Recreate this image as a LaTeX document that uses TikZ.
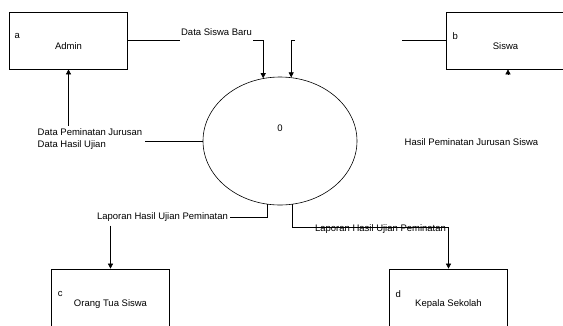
\documentclass[tikz,border=0pt]{standalone}
\usepackage{fontspec}
\setmainfont{Liberation Sans}
\usetikzlibrary{arrows.meta}
\usetikzlibrary{shapes.geometric}

\begin{document}
\begin{tikzpicture}[x=1pt, y=-1pt,
  entity/.style={draw, line width=0.7pt, minimum width=118pt, minimum height=57pt, inner sep=0pt},
  process/.style={draw, ellipse, line width=0.6pt, minimum width=154pt, minimum height=128pt, inner sep=0pt},
  flow/.style={-{Triangle[length=5pt,width=5pt]}, line width=0.6pt},
  wire/.style={line width=0.6pt},
  txt/.style={font=\fontsize{9.5}{12}\selectfont, inner sep=0pt}
]
\useasboundingbox (0,0) rectangle (563,325);
\clip (0,0) rectangle (563,325);

%external entities
\node[entity] (admin) at (68.5,40.5) {};
\node[txt] at ([xshift=8pt,yshift=-24pt]admin.north west) {a};
\node[txt] at ([yshift=-34pt]admin.north) {Admin};

\node[entity] (siswa) at (505.5,40.5) {};
\node[txt] at ([xshift=9pt,yshift=-24pt]siswa.north west) {b};
\node[txt] at ([yshift=-34pt]siswa.north) {Siswa};

\node[entity] (ortu) at (110.5,297.5) {};
\node[txt] at ([xshift=9pt,yshift=-25pt]ortu.north west) {c};
\node[txt] at ([yshift=-35pt]ortu.north) {Orang Tua Siswa};

\node[entity] (kepsek) at (448.5,297.5) {};
\node[txt] at ([xshift=9pt,yshift=-25pt]kepsek.north west) {d};
\node[txt] at ([yshift=-35pt]kepsek.north) {Kepala Sekolah};

%the process
\node[process] (proc) at (280,141) {};
\node[txt] at ([yshift=13pt]proc.center) {0};

%data flows in
\node[txt, inner xsep=1pt] (dsb) at (216.5,32) {Data Siswa Baru};
\draw[wire] (admin.east) -- (admin.east -| dsb.west);
\draw[flow] (admin.east -| dsb.east) -| (proc.105);

\coordinate (gapL) at (295,40.5);
\coordinate (gapR) at (402,40.5);
\draw[wire] (siswa.west) -- (gapR);
\draw[flow] (gapL) -| (proc.80);

%data flows out
\node[txt, align=left, inner sep=3pt] (dpj) at (90,139.5) {Data Peminatan Jurusan\\Data Hasil Ujian};
\draw[wire] (proc.west) -- (proc.west -| dpj.east);
\draw[flow] (dpj.north -| admin.south) -- (admin.south);

\node[txt, inner xsep=2pt, inner ysep=4pt] (lhu1) at (162.5,217) {Laporan Hasil Ujian Peminatan};
\draw[wire] (proc.259) |- (lhu1.east);
\draw[flow] (lhu1.south -| ortu.north) -- (ortu.north);

\draw[flow] (proc.281) -- ++(0,23) -| (kepsek.north);
\node[txt] (lhu2) at (380.5,229) {Laporan Hasil Ujian Peminatan};

\draw[flow] ([xshift=2.5pt,yshift=-5.5pt]siswa.south) -- ([xshift=2.5pt]siswa.south);
\node[txt] (hpj) at (471.5,142) {Hasil Peminatan Jurusan Siswa};

\end{tikzpicture}
\end{document}
